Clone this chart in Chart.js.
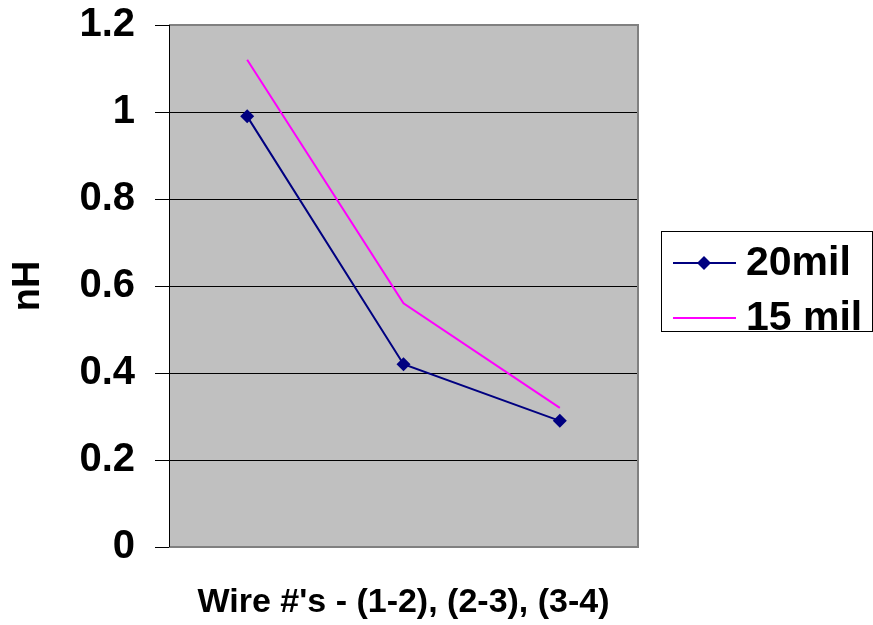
<!DOCTYPE html>
<html>
<head>
<meta charset="utf-8">
<script src="https://cdn.jsdelivr.net/npm/chart.js@4"></script>
<style>
  body { margin: 0; background: #fff; }
</style>
</head>
<body>
<canvas id="chart" width="873" height="625"></canvas>
<script>
// data
var categories = ['(1-2)', '(2-3)', '(3-4)'];
var mil20 = [0.99, 0.42, 0.29];
var mil15 = [1.12, 0.56, 0.32];
var yTickLabels = ['0', '0.2', '0.4', '0.6', '0.8', '1', '1.2'];

var FONT = '"Liberation Sans", Arial, sans-serif';

// grey plot area with the Excel-like frame
var plotBack = {
	id: 'plotBack',
	beforeDraw: function(chart) {
		var a = chart.chartArea, c = chart.ctx;
		c.save();
		c.fillStyle = '#C0C0C0';
		c.fillRect(a.left, a.top, a.right - a.left, a.bottom - a.top);
		c.restore();
	},
	beforeDatasetsDraw: function(chart) {
		var a = chart.chartArea, c = chart.ctx;
		c.save();
		c.strokeStyle = '#808080';
		c.lineWidth = 2;
		c.beginPath();
		c.moveTo(a.left, a.top);
		c.lineTo(a.right, a.top);
		c.lineTo(a.right, a.bottom);
		c.lineTo(a.left, a.bottom);
		c.stroke();
		c.strokeStyle = '#000';
		c.lineWidth = 1;
		c.beginPath();
		c.moveTo(a.left + 0.5, a.top);
		c.lineTo(a.left + 0.5, a.bottom);
		c.stroke();
		c.restore();
	}
};

// boxed legend on the right
var boxLegend = {
	id: 'boxLegend',
	afterDraw: function(chart) {
		var c = chart.ctx;
		var rows = [263, 318];
		c.save();
		c.strokeStyle = '#000';
		c.lineWidth = 1;
		c.strokeRect(661.5, 231.5, 211, 100);
		chart.data.datasets.forEach(function(ds, i) {
			var y = rows[i];
			c.strokeStyle = ds.borderColor;
			c.lineWidth = ds.borderWidth;
			c.beginPath();
			c.moveTo(673, y);
			c.lineTo(736, y);
			c.stroke();
			if (ds.pointRadius > 0) {
				c.fillStyle = ds.backgroundColor;
				c.beginPath();
				c.moveTo(704, y - 7);
				c.lineTo(711, y);
				c.lineTo(704, y + 7);
				c.lineTo(697, y);
				c.closePath();
				c.fill();
			}
			c.fillStyle = '#000';
			c.font = 'bold 41px ' + FONT;
			c.textBaseline = 'middle';
			c.textAlign = 'left';
			c.fillText(ds.label, 746, y + 1);
		});
		c.restore();
	}
};

var ctx = document.getElementById('chart');

var lineChart = new Chart(ctx, {
	type: 'line',
	data: {
		labels: categories,
		datasets: [
			{
				label: '20mil',
				data: mil20,
				borderColor: '#000080',
				backgroundColor: '#000080',
				borderWidth: 2,
				pointStyle: 'rectRot',
				pointRadius: 7,
				pointBorderWidth: 0,
				tension: 0,
				fill: false
			},
			{
				label: '15 mil',
				data: mil15,
				borderColor: '#FF00FF',
				backgroundColor: '#FF00FF',
				borderWidth: 2,
				pointRadius: 0,
				tension: 0,
				fill: false
			}
		]
	},
	options: {
		responsive: false,
		animation: false,
		layout: { padding: { top: 25, right: 235, left: 0, bottom: 0 } },
		plugins: {
			legend: { display: false },
			tooltip: { enabled: false }
		},
		scales: {
			x: {
				type: 'category',
				offset: true,
				grid: { display: false },
				border: { display: false },
				ticks: { display: false },
				title: {
					display: true,
					text: "Wire #'s - (1-2), (2-3), (3-4)",
					color: '#000',
					font: { family: FONT, size: 34, weight: 'bold' },
					padding: { top: 0, bottom: 2 }
				},
				afterFit: function(s) { s.height = 78; }
			},
			y: {
				min: 0,
				max: 1.2,
				ticks: {
					stepSize: 0.2,
					color: '#000',
					padding: 20,
					font: { family: FONT, size: 40, weight: 'bold' },
					callback: function(v, i) { return yTickLabels[i]; }
				},
				grid: {
					color: '#000',
					lineWidth: 1,
					tickLength: 14,
					tickColor: '#000'
				},
				border: { display: true, color: '#000', width: 1 },
				title: {
					display: true,
					text: 'nH',
					color: '#000',
					font: { family: FONT, size: 38, weight: 'bold' },
					padding: { top: 6, bottom: 0 }
				},
				afterFit: function(s) {
					s.width = 169;
					s.paddingTop = 0;
					s.paddingBottom = 0;
				}
			}
		}
	},
	plugins: [plotBack, boxLegend]
});
</script>
</body>
</html>
